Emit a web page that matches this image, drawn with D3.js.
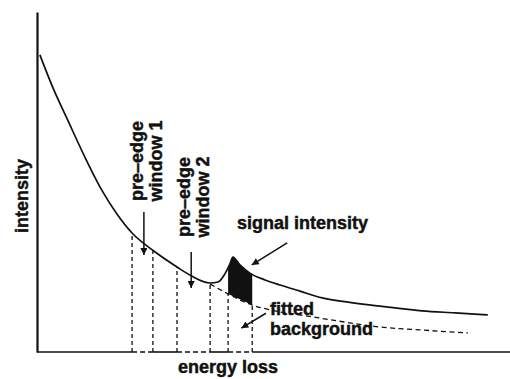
<!DOCTYPE html>
<html>
<head>
<meta charset="utf-8">
<script src="https://cdn.jsdelivr.net/npm/d3@7"></script>
<style>
  html, body { margin: 0; padding: 0; background: #fff; }
  svg { display: block; }
  text { font-family: "Liberation Sans", Arial, Helvetica, sans-serif; font-weight: bold; font-size: 18px; fill: #111; stroke: #111; stroke-width: 0.45px; }
</style>
</head>
<body>
<svg id="chart" width="510" height="379"></svg>
<script>
// Measured spectrum (arbitrary units): steep background decay with an edge at ~41
const energy    = [0.6, 3.4, 6.5, 10.1, 13.7, 16.9, 20.1, 24.7, 29.6, 32.6, 36.6, 38.3, 39.7, 40.8, 41.4, 42.9, 45.0, 48.2, 51.4, 55.6, 60.3, 67.2, 74.2, 81.4, 88.4, 95.3];
const intensity = [87.4, 77.6, 68.2, 57.4, 47.6, 40.6, 35.0, 29.7, 25.0, 22.4, 20.3, 20.6, 22.9, 25.9, 27.9, 25.6, 23.2, 21.2, 19.7, 17.9, 15.9, 14.4, 13.2, 12.1, 11.5, 10.9];

// Power-law background fitted in the pre-edge windows and extrapolated under the edge
const bgEnergy    = [36.6, 40.4, 45.5, 49.3, 58.4, 65.1, 72.1, 81.0, 91.1];
const bgIntensity = [20.0, 17.1, 13.8, 12.4, 10.3, 8.8, 7.4, 6.5, 5.6];

// Energy windows: two pre-edge fitting windows and the signal window
const preEdge1 = [20.1, 24.5];
const preEdge2 = [29.6, 36.6];
const signalWindow = [40.4, 45.5];

const svg = d3.select("#chart");
const x = d3.scaleLinear().domain([0, 100]).range([37, 510]);
const y = d3.scaleLinear().domain([0, 100]).range([352, 12]);

// piecewise lookups through the measured points
const specAt = d3.scaleLinear().domain(energy).range(intensity);
const bgAt = d3.scaleLinear().domain(bgEnergy).range(bgIntensity);

const spectrum = energy.map((e, i) => [e, intensity[i]]);
const background = bgEnergy.map((e, i) => [e, bgIntensity[i]]);

// arrowhead
svg.append("defs").append("marker")
  .attr("id", "head")
  .attr("viewBox", "0 0 10 10")
  .attr("refX", 10).attr("refY", 5)
  .attr("markerWidth", 10).attr("markerHeight", 7)
  .attr("markerUnits", "userSpaceOnUse")
  .attr("orient", "auto")
  .append("path").attr("d", "M0,0 L10,5 L0,10 Z").attr("fill", "#111");

// signal area between spectrum and background
const inside = spectrum.filter(d => d[0] > signalWindow[0] && d[0] < signalWindow[1]).map(d => d[0]);
const areaE = [signalWindow[0], ...inside, signalWindow[1]];
svg.append("path")
  .datum(areaE)
  .attr("fill", "#111")
  .attr("d", d3.area()
    .x(e => x(e))
    .y0(e => y(bgAt(e)))
    .y1(e => y(specAt(e)))
    .curve(d3.curveMonotoneX));

// fitted background (dashed)
svg.append("path")
  .datum(background)
  .attr("fill", "none")
  .attr("stroke", "#111")
  .attr("stroke-width", 1.3)
  .attr("stroke-dasharray", "5,3.5")
  .attr("d", d3.line().x(d => x(d[0])).y(d => y(d[1])).curve(d3.curveMonotoneX));

// spectrum
svg.append("path")
  .datum(spectrum)
  .attr("fill", "none")
  .attr("stroke", "#111")
  .attr("stroke-width", 1.7)
  .attr("d", d3.line().x(d => x(d[0])).y(d => y(d[1])).curve(d3.curveMonotoneX));

// window edges
const edges = [
  ...preEdge1.map(e => [e, specAt(e)]),
  ...preEdge2.map(e => [e, specAt(e)]),
  ...signalWindow.map(e => [e, bgAt(e)])
];
svg.append("g").selectAll("line").data(edges).join("line")
  .attr("x1", d => x(d[0])).attr("x2", d => x(d[0]))
  .attr("y1", y(0)).attr("y2", d => y(d[1]))
  .attr("stroke", "#111").attr("stroke-width", 1.3)
  .attr("stroke-dasharray", "4,3");

// axes (no ticks), baseline dashed across the windows
svg.append("g")
  .attr("transform", `translate(${x(0)},0)`)
  .call(d3.axisLeft(y).tickValues([]).tickSizeOuter(0))
  .select(".domain").attr("stroke", "#111").attr("stroke-width", 2.2);

const solidSpans = [[0, preEdge1[0]], [preEdge1[1], preEdge2[0]], [preEdge2[1], signalWindow[0]], [signalWindow[1], 100]];
const dashedSpans = [preEdge1, preEdge2, signalWindow];
svg.append("g").selectAll("line").data(solidSpans).join("line")
  .attr("x1", d => x(d[0])).attr("x2", d => x(d[1]))
  .attr("y1", y(0)).attr("y2", y(0))
  .attr("stroke", "#111").attr("stroke-width", 1.6);
svg.append("g").selectAll("line").data(dashedSpans).join("line")
  .attr("x1", d => x(d[0])).attr("x2", d => x(d[1]))
  .attr("y1", y(0)).attr("y2", y(0))
  .attr("stroke", "#111").attr("stroke-width", 1.6)
  .attr("stroke-dasharray", "5,3");

// annotation arrows: [from, to] in data units
const arrows = [
  [[22.6, 41.2], [22.6, 28.5]],
  [[32.6, 29.4], [32.6, 18.8]],
  [[52.9, 32.1], [45.4, 25.6]],
  [[48.4, 11.4], [43.2, 7.0]]
];
svg.append("g").selectAll("line").data(arrows).join("line")
  .attr("x1", d => x(d[0][0])).attr("y1", d => y(d[0][1]))
  .attr("x2", d => x(d[1][0])).attr("y2", d => y(d[1][1]))
  .attr("stroke", "#111").attr("stroke-width", 1.5)
  .attr("marker-end", "url(#head)");

// labels
const rot = (px, py, lines, gap) => {
  lines.forEach((t, i) => {
    svg.append("text")
      .attr("transform", `translate(${px + i * gap},${py}) rotate(-90)`)
      .attr("text-anchor", "middle")
      .text(t);
  });
};
rot(28, 196, ["intensity"], 0);
rot(143, 161, ["pre\u2013edge", "window 1"], 19);
rot(190, 197, ["pre\u2013edge", "window 2"], 18.5);

svg.append("text").attr("x", 237).attr("y", 229).text("signal intensity");
svg.append("text").attr("x", 270).attr("y", 315).text("fitted");
svg.append("text").attr("x", 270).attr("y", 335).text("background");
svg.append("text").attr("x", 178).attr("y", 373).text("energy loss");
</script>
</body>
</html>
